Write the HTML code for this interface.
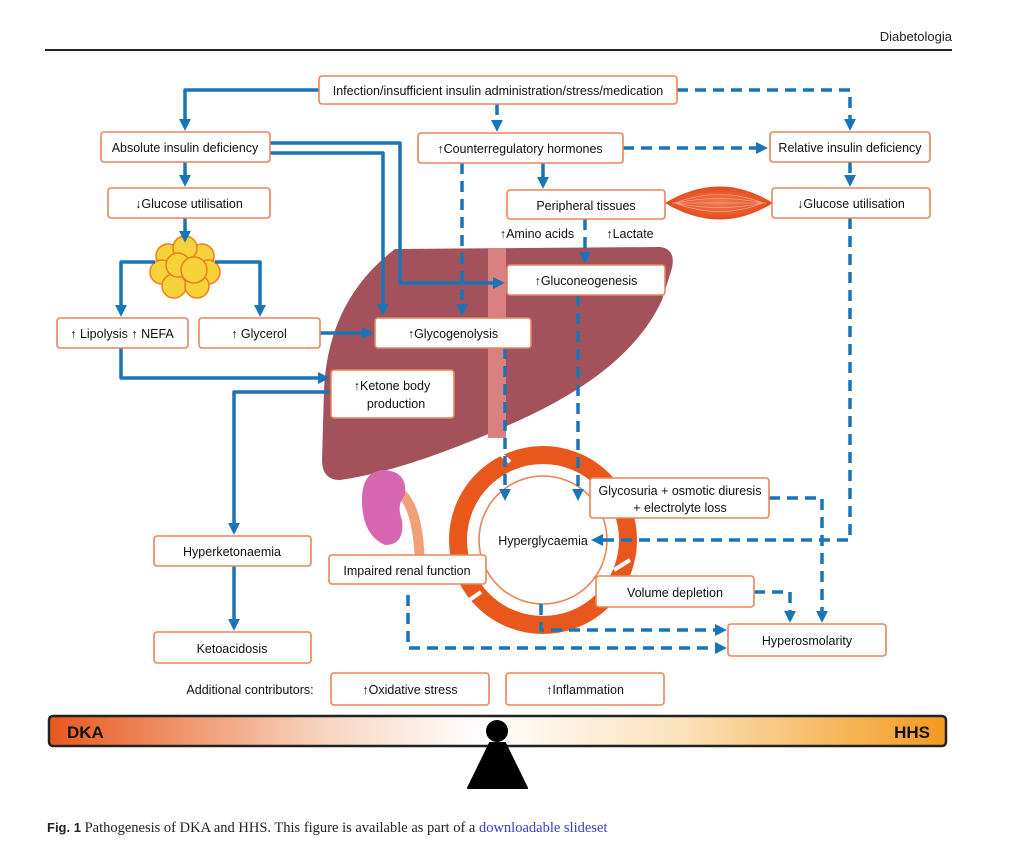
<!DOCTYPE html>
<html><head><meta charset="utf-8"><style>
html,body{margin:0;padding:0;background:#fff;}
svg{display:block;}
.t{font-family:"Liberation Sans",sans-serif;font-size:12.5px;fill:#111;text-anchor:middle;}
.b{fill:#fff;stroke:#e8865a;stroke-width:1.6;}
.s{fill:none;stroke:#1a75b8;stroke-width:3.5;stroke-linejoin:round;}
.d{fill:none;stroke:#1a75b8;stroke-width:3.5;stroke-dasharray:11,7;stroke-linejoin:round;}
</style></head><body>
<svg width="1010" height="844" viewBox="0 0 1010 844" xmlns="http://www.w3.org/2000/svg">
<defs>
<marker id="a" markerWidth="3.4" markerHeight="3.4" refX="2" refY="1.7" orient="auto" markerUnits="strokeWidth"><path d="M0,0 L3.4,1.7 L0,3.4 Z" fill="#1a75b8"/></marker>
<linearGradient id="g" x1="0" x2="1" y1="0" y2="0">
<stop offset="0" stop-color="#e8581c"/><stop offset="0.3" stop-color="#f7d3bd"/><stop offset="0.48" stop-color="#fff"/><stop offset="0.7" stop-color="#fbe3bd"/><stop offset="1" stop-color="#f39a1e"/></linearGradient>
<radialGradient id="m" cx="0.5" cy="0.5" r="0.5"><stop offset="0" stop-color="#f07a50"/><stop offset="1" stop-color="#e24a1c"/></radialGradient>
</defs>
<text x="952" y="41" font-family="Liberation Sans,sans-serif" font-size="13" text-anchor="end" fill="#222">Diabetologia</text>
<rect x="45" y="49" width="907" height="2" fill="#222"/>

<!-- liver -->
<path d="M395,249 L660,247 Q676,249 672,268 L662,300 Q630,370 520,420 Q410,470 340,480 Q322,480 322,460 L324,390 Q328,300 395,249 Z" fill="#a3515a"/>
<rect x="488" y="248" width="18" height="190" fill="#d98080"/>

<!-- fat cells -->
<g fill="#f7d23a" stroke="#ee7d1e" stroke-width="1.5">
<circle cx="168" cy="256" r="12"/><circle cx="202" cy="256" r="12"/><circle cx="185" cy="248" r="12"/>
<circle cx="162" cy="272" r="12"/><circle cx="208" cy="272" r="12"/><circle cx="174" cy="286" r="12"/><circle cx="197" cy="286" r="12"/>
<circle cx="178" cy="265" r="12"/><circle cx="194" cy="270" r="13"/>
</g>
<!-- muscle -->
<path d="M665,203 Q720,170 773,203 Q720,236 665,203 Z" fill="url(#m)"/>
<g stroke="#f6a08a" stroke-width="0.8" fill="none"><path d="M675,203 Q720,186 763,203"/><path d="M675,203 Q720,220 763,203"/><path d="M672,203 L766,203"/><path d="M675,203 Q720,194 763,203"/><path d="M675,203 Q720,212 763,203"/></g>
<!-- kidney -->
<path d="M395,490 Q420,500 420,575" stroke="#f2a07a" stroke-width="10" fill="none"/>
<path d="M385,470 Q362,470 362,500 Q362,535 385,545 Q405,545 402,520 Q396,505 405,495 Q408,472 385,470 Z" fill="#d667b0"/>

<!-- orange ring -->
<circle cx="543" cy="540" r="85" fill="none" stroke="#e8581c" stroke-width="18"/>
<g stroke="#fff" stroke-width="4"><line x1="496" y1="450" x2="510" y2="462"/><line x1="630" y1="560" x2="614" y2="570"/><line x1="465" y1="603" x2="481" y2="592"/></g>
<circle cx="543" cy="540" r="64" fill="#fff" stroke="#e8865a" stroke-width="1.6"/>
<text class="t" x="543" y="545">Hyperglycaemia</text>

<!-- connectors -->
<path class="s" d="M319,90 H185 V126" marker-end="url(#a)"/>
<path class="d" d="M497,104 V127" marker-end="url(#a)"/>
<path class="d" d="M677,90 H850 V126" marker-end="url(#a)"/>
<path class="s" d="M185,162 V182" marker-end="url(#a)"/>
<path class="s" d="M270,143 H400 V283 H500" marker-end="url(#a)"/>
<path class="s" d="M270,153 H383 V311" marker-end="url(#a)"/>
<path class="s" d="M543,163 V184" marker-end="url(#a)"/>
<path class="d" d="M623,148 H763" marker-end="url(#a)"/>
<path class="d" d="M462,163 V311" marker-end="url(#a)"/>
<path class="d" d="M850,162 V182" marker-end="url(#a)"/>
<path class="d" d="M850,218 V540 H596" marker-end="url(#a)"/>
<path class="d" d="M585,219 V259" marker-end="url(#a)"/>
<path class="s" d="M185,218 V238" marker-end="url(#a)"/>
<path class="s" d="M155,262 H121 V312" marker-end="url(#a)"/>
<path class="s" d="M215,262 H260 V312" marker-end="url(#a)"/>
<path class="s" d="M121,348 V378 H325" marker-end="url(#a)"/>
<path class="s" d="M331,392 H234 V530" marker-end="url(#a)"/>
<path class="s" d="M234,566 V626" marker-end="url(#a)"/>
<path class="s" d="M320,333 H369" marker-end="url(#a)"/>
<path class="d" d="M505,348 V496" marker-end="url(#a)"/>
<path class="d" d="M578,295 V496" marker-end="url(#a)"/>
<path class="d" d="M769,498 H822 V618" marker-end="url(#a)"/>
<path class="d" d="M754,592 H790 V618" marker-end="url(#a)"/>
<path class="d" d="M541,604 V630 H722" marker-end="url(#a)"/>
<path class="d" d="M408,595 V648 H722" marker-end="url(#a)"/>

<!-- boxes -->
<rect class="b" x="319" y="76" width="358" height="28" rx="3"/><text class="t" x="498" y="95">Infection/insufficient insulin administration/stress/medication</text>
<rect class="b" x="101" y="132" width="169" height="30" rx="3"/><text class="t" x="185" y="152">Absolute insulin deficiency</text>
<rect class="b" x="418" y="133" width="205" height="30" rx="3"/><text class="t" x="520" y="153">↑Counterregulatory hormones</text>
<rect class="b" x="770" y="132" width="160" height="30" rx="3"/><text class="t" x="850" y="152">Relative insulin deficiency</text>
<rect class="b" x="108" y="188" width="162" height="30" rx="3"/><text class="t" x="189" y="208">↓Glucose utilisation</text>
<rect class="b" x="507" y="190" width="158" height="29" rx="3"/><text class="t" x="586" y="210">Peripheral tissues</text>
<rect class="b" x="772" y="188" width="158" height="30" rx="3"/><text class="t" x="851" y="208">↓Glucose utilisation</text>
<text class="t" x="537" y="238">↑Amino acids</text><text class="t" x="630" y="238">↑Lactate</text>
<rect class="b" x="57" y="318" width="131" height="30" rx="3"/><text class="t" x="122" y="338">↑ Lipolysis ↑ NEFA</text>
<rect class="b" x="199" y="318" width="121" height="30" rx="3"/><text class="t" x="259" y="338">↑ Glycerol</text>
<rect class="b" x="375" y="318" width="156" height="30" rx="3"/><text class="t" x="453" y="338">↑Glycogenolysis</text>
<rect class="b" x="507" y="265" width="158" height="30" rx="3"/><text class="t" x="586" y="285">↑Gluconeogenesis</text>
<rect class="b" x="331" y="370" width="123" height="48" rx="3"/><text class="t" x="392" y="390">↑Ketone body</text><text class="t" x="396" y="408">production</text>
<rect class="b" x="154" y="536" width="157" height="30" rx="3"/><text class="t" x="232" y="556">Hyperketonaemia</text>
<rect class="b" x="154" y="632" width="157" height="31" rx="3"/><text class="t" x="232" y="653">Ketoacidosis</text>
<rect class="b" x="329" y="555" width="157" height="29" rx="3"/><text class="t" x="407" y="575">Impaired renal function</text>
<rect class="b" x="590" y="478" width="179" height="40" rx="3"/><text class="t" x="680" y="495">Glycosuria + osmotic diuresis</text><text class="t" x="680" y="512">+ electrolyte loss</text>
<rect class="b" x="596" y="576" width="158" height="31" rx="3"/><text class="t" x="675" y="597">Volume depletion</text>
<rect class="b" x="728" y="624" width="158" height="32" rx="3"/><text class="t" x="807" y="645">Hyperosmolarity</text>
<text class="t" x="250" y="694">Additional contributors:</text>
<rect class="b" x="331" y="673" width="158" height="32" rx="3"/><text class="t" x="410" y="694">↑Oxidative stress</text>
<rect class="b" x="506" y="673" width="158" height="32" rx="3"/><text class="t" x="585" y="694">↑Inflammation</text>

<!-- scale -->
<rect x="49" y="716" width="897" height="30" rx="4" fill="url(#g)" stroke="#222" stroke-width="2.5"/>
<text x="67" y="738" font-family="Liberation Sans,sans-serif" font-weight="bold" font-size="17" fill="#111">DKA</text>
<text x="930" y="738" font-family="Liberation Sans,sans-serif" font-weight="bold" font-size="17" fill="#111" text-anchor="end">HHS</text>
<circle cx="497" cy="731" r="11" fill="#000"/>
<path d="M490,743 L505,743 L527,788 L468,788 Z" fill="#000" stroke="#000" stroke-width="2" stroke-linejoin="round"/>

<text x="47" y="832" font-family="Liberation Serif,serif" font-size="14.5" fill="#222"><tspan font-family="Liberation Sans,sans-serif" font-weight="bold" font-size="13">Fig. 1</tspan>  Pathogenesis of DKA and HHS. This figure is available as part of a <tspan fill="#3b3bd0">downloadable slideset</tspan></text>
</svg>
</body></html>
